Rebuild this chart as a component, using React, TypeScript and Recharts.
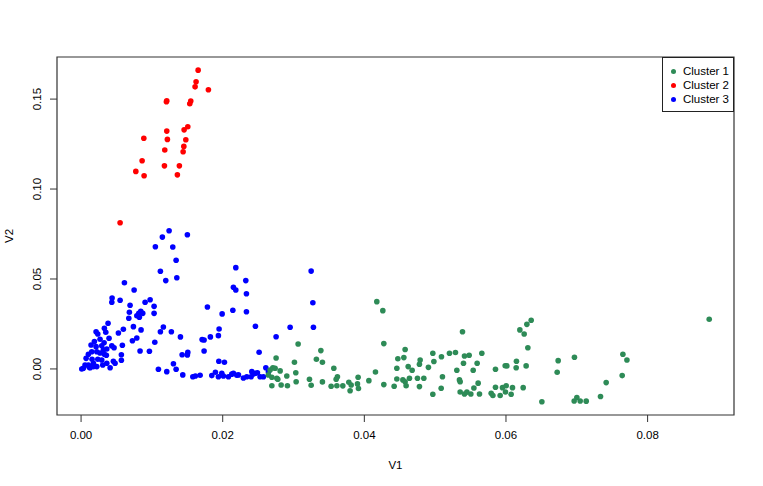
import { ScatterChart, Scatter, XAxis, YAxis, ReferenceArea, Legend } from "recharts";

// values (V1, V2)
const cluster1 = [
  { v1: 0.04176, v2: 0.0374 }, { v1: 0.04261, v2: 0.0324 }, { v1: 0.03065, v2: 0.0139 }, { v1: 0.04275, v2: 0.0141 },
  { v1: 0.02754, v2: 0.0061 }, { v1: 0.03386, v2: 0.0102 }, { v1: 0.03013, v2: 0.0037 }, { v1: 0.03323, v2: 0.0054 },
  { v1: 0.03408, v2: 0.0037 }, { v1: 0.04576, v2: 0.0108 }, { v1: 0.04473, v2: 0.0057 }, { v1: 0.04558, v2: 0.0063 },
  { v1: 0.04459, v2: 0.0004 }, { v1: 0.04619, v2: 0.0013 }, { v1: 0.03569, v2: 0.0004 }, { v1: 0.04157, v2: -0.0017 },
  { v1: 0.03032, v2: -0.0021 }, { v1: 0.02708, v2: 0.0007 }, { v1: 0.0274, v2: 0.0004 }, { v1: 0.02811, v2: -0.0011 },
  { v1: 0.02764, v2: -0.0052 }, { v1: 0.02694, v2: -0.0046 }, { v1: 0.02645, v2: -0.0033 }, { v1: 0.02905, v2: -0.0039 },
  { v1: 0.0362, v2: -0.0043 }, { v1: 0.03602, v2: -0.0057 }, { v1: 0.03912, v2: -0.0046 }, { v1: 0.04064, v2: -0.0065 },
  { v1: 0.03225, v2: -0.0057 }, { v1: 0.03408, v2: -0.0072 }, { v1: 0.03037, v2: -0.0071 }, { v1: 0.02694, v2: -0.0093 },
  { v1: 0.02825, v2: -0.0089 }, { v1: 0.02914, v2: -0.0093 }, { v1: 0.03249, v2: -0.0091 }, { v1: 0.03531, v2: -0.0096 },
  { v1: 0.03612, v2: -0.0093 }, { v1: 0.03696, v2: -0.0094 }, { v1: 0.03781, v2: -0.0074 }, { v1: 0.03814, v2: -0.0089 },
  { v1: 0.03799, v2: -0.0121 }, { v1: 0.03903, v2: -0.0083 }, { v1: 0.03917, v2: -0.0109 }, { v1: 0.04275, v2: -0.0087 },
  { v1: 0.04421, v2: -0.0096 }, { v1: 0.04459, v2: -0.0056 }, { v1: 0.04544, v2: -0.0061 }, { v1: 0.04576, v2: -0.0071 },
  { v1: 0.0459, v2: -0.0093 }, { v1: 0.04637, v2: -0.0052 }, { v1: 0.02669, v2: -0.0006 }, { v1: 0.02778, v2: -0.0057 },
  { v1: 0.05386, v2: 0.0207 }, { v1: 0.06196, v2: 0.0217 }, { v1: 0.06295, v2: 0.0248 }, { v1: 0.06356, v2: 0.0271 },
  { v1: 0.06257, v2: 0.0194 }, { v1: 0.06309, v2: 0.0118 }, { v1: 0.06737, v2: 0.0046 }, { v1: 0.06723, v2: -0.0018 },
  { v1: 0.04967, v2: 0.0087 }, { v1: 0.05202, v2: 0.0087 }, { v1: 0.05287, v2: 0.0091 }, { v1: 0.05414, v2: 0.0072 },
  { v1: 0.0548, v2: 0.0076 }, { v1: 0.05659, v2: 0.0087 }, { v1: 0.05089, v2: 0.0068 }, { v1: 0.04788, v2: 0.005 },
  { v1: 0.04778, v2: 0.0026 }, { v1: 0.04982, v2: 0.0041 }, { v1: 0.054, v2: 0.0032 }, { v1: 0.05593, v2: 0.0032 },
  { v1: 0.06148, v2: 0.0043 }, { v1: 0.06144, v2: 0.0007 }, { v1: 0.05989, v2: 0.0018 }, { v1: 0.06013, v2: 0.0017 },
  { v1: 0.06285, v2: 0.0017 }, { v1: 0.04675, v2: -0.0007 }, { v1: 0.04905, v2: 0.0009 }, { v1: 0.05306, v2: -0.0007 },
  { v1: 0.05537, v2: -0.0007 }, { v1: 0.05852, v2: -0.0002 }, { v1: 0.0475, v2: -0.0052 }, { v1: 0.0484, v2: -0.0052 },
  { v1: 0.05103, v2: -0.0043 }, { v1: 0.05343, v2: -0.0061 }, { v1: 0.04778, v2: -0.0098 }, { v1: 0.05085, v2: -0.0107 },
  { v1: 0.05607, v2: -0.0079 }, { v1: 0.05547, v2: -0.0106 }, { v1: 0.05852, v2: -0.0102 }, { v1: 0.05951, v2: -0.0104 },
  { v1: 0.06003, v2: -0.0093 }, { v1: 0.06092, v2: -0.0104 }, { v1: 0.06243, v2: -0.0104 }, { v1: 0.04967, v2: -0.0141 },
  { v1: 0.05353, v2: -0.0128 }, { v1: 0.05414, v2: -0.0139 }, { v1: 0.05448, v2: -0.0129 }, { v1: 0.05504, v2: -0.0139 },
  { v1: 0.05626, v2: -0.0139 }, { v1: 0.05791, v2: -0.0135 }, { v1: 0.05815, v2: -0.0148 }, { v1: 0.05918, v2: -0.0148 },
  { v1: 0.05993, v2: -0.0128 }, { v1: 0.06073, v2: -0.0141 }, { v1: 0.06507, v2: -0.0182 }, { v1: 0.06963, v2: -0.0178 },
  { v1: 0.07001, v2: -0.0159 }, { v1: 0.07048, v2: -0.0178 }, { v1: 0.07133, v2: -0.0179 }, { v1: 0.07335, v2: -0.0153 },
  { v1: 0.07415, v2: -0.0076 }, { v1: 0.07651, v2: 0.0082 }, { v1: 0.07708, v2: 0.005 }, { v1: 0.07641, v2: -0.0037 },
  { v1: 0.0887, v2: 0.0276 }, { v1: 0.06967, v2: 0.0065 }, { v1: 0.05353, v2: -0.0071 },
];

const cluster2 = [
  { v1: 0.01653, v2: 0.1661 }, { v1: 0.01624, v2: 0.1596 }, { v1: 0.0161, v2: 0.1568 }, { v1: 0.01798, v2: 0.1552 },
  { v1: 0.0121, v2: 0.1491 }, { v1: 0.01205, v2: 0.1485 }, { v1: 0.01549, v2: 0.1489 }, { v1: 0.01535, v2: 0.1474 },
  { v1: 0.01507, v2: 0.1346 }, { v1: 0.01455, v2: 0.1329 }, { v1: 0.0121, v2: 0.1322 }, { v1: 0.00886, v2: 0.1282 },
  { v1: 0.01219, v2: 0.1276 }, { v1: 0.01479, v2: 0.1274 }, { v1: 0.01182, v2: 0.1217 }, { v1: 0.01451, v2: 0.1237 },
  { v1: 0.01441, v2: 0.1207 }, { v1: 0.00862, v2: 0.1157 }, { v1: 0.01177, v2: 0.1129 }, { v1: 0.01388, v2: 0.1129 },
  { v1: 0.00773, v2: 0.1098 }, { v1: 0.0089, v2: 0.1074 }, { v1: 0.0136, v2: 0.1079 }, { v1: 0.00551, v2: 0.0813 },
];

const cluster3 = [
  { v1: 0.01243, v2: 0.0768 }, { v1: 0.01148, v2: 0.0733 }, { v1: 0.01501, v2: 0.0746 }, { v1: 0.01049, v2: 0.0679 },
  { v1: 0.01295, v2: 0.0678 }, { v1: 0.01342, v2: 0.0604 }, { v1: 0.0112, v2: 0.0543 }, { v1: 0.01196, v2: 0.0491 },
  { v1: 0.01352, v2: 0.0507 }, { v1: 0.00612, v2: 0.0479 }, { v1: 0.00749, v2: 0.0439 }, { v1: 0.00438, v2: 0.0394 },
  { v1: 0.00434, v2: 0.0371 }, { v1: 0.00551, v2: 0.0382 }, { v1: 0.00692, v2: 0.0354 }, { v1: 0.00975, v2: 0.0385 },
  { v1: 0.00904, v2: 0.0371 }, { v1: 0.01031, v2: 0.0348 }, { v1: 0.00682, v2: 0.0315 }, { v1: 0.00843, v2: 0.0321 },
  { v1: 0.00815, v2: 0.0309 }, { v1: 0.00871, v2: 0.0309 }, { v1: 0.00787, v2: 0.0296 }, { v1: 0.00823, v2: 0.0287 },
  { v1: 0.00674, v2: 0.0282 }, { v1: 0.01031, v2: 0.0309 }, { v1: 0.00381, v2: 0.0254 }, { v1: 0.00739, v2: 0.0235 },
  { v1: 0.00597, v2: 0.0221 }, { v1: 0.00847, v2: 0.0217 }, { v1: 0.01162, v2: 0.0233 }, { v1: 0.0112, v2: 0.0207 },
  { v1: 0.01275, v2: 0.0207 }, { v1: 0.01403, v2: 0.0178 }, { v1: 0.00527, v2: 0.02 }, { v1: 0.00787, v2: 0.0172 },
  { v1: 0.00725, v2: 0.0157 }, { v1: 0.01041, v2: 0.0148 }, { v1: 0.00583, v2: 0.0132 }, { v1: 0.00833, v2: 0.01 },
  { v1: 0.00965, v2: 0.0098 }, { v1: 0.01427, v2: 0.0079 }, { v1: 0.01507, v2: 0.0092 }, { v1: 0.01501, v2: 0.0078 },
  { v1: 0.00569, v2: 0.0079 }, { v1: 0.00569, v2: 0.0048 }, { v1: 0.01092, v2: -0.0002 }, { v1: 0.0121, v2: -0.0015 },
  { v1: 0.01304, v2: 0.0029 }, { v1: 0.01342, v2: -0.0002 }, { v1: 0.01436, v2: -0.0033 }, { v1: 0.01578, v2: -0.0043 },
  { v1: 0.01614, v2: -0.0039 }, { v1: 0.01681, v2: -0.0035 }, { v1: 0.02185, v2: 0.0563 }, { v1: 0.02326, v2: 0.0491 },
  { v1: 0.02151, v2: 0.0454 }, { v1: 0.02185, v2: 0.0439 }, { v1: 0.02335, v2: 0.0418 }, { v1: 0.01784, v2: 0.0344 },
  { v1: 0.01992, v2: 0.0306 }, { v1: 0.02143, v2: 0.0326 }, { v1: 0.02335, v2: 0.0318 }, { v1: 0.02462, v2: 0.0237 },
  { v1: 0.01949, v2: 0.0222 }, { v1: 0.01939, v2: 0.0185 }, { v1: 0.01826, v2: 0.0178 }, { v1: 0.01709, v2: 0.0163 },
  { v1: 0.01737, v2: 0.0161 }, { v1: 0.01737, v2: 0.01 }, { v1: 0.03249, v2: 0.0544 }, { v1: 0.03273, v2: 0.0368 },
  { v1: 0.03281, v2: 0.0232 }, { v1: 0.02952, v2: 0.0232 }, { v1: 0.02754, v2: 0.0179 }, { v1: 0.02514, v2: 0.0093 },
  { v1: 0.01945, v2: 0.0043 }, { v1: 0.02024, v2: 0.0037 }, { v1: 0.02609, v2: 0.0007 }, { v1: 0.01846, v2: -0.0037 },
  { v1: 0.01897, v2: -0.0018 }, { v1: 0.01939, v2: -0.0043 }, { v1: 0.01987, v2: -0.0024 }, { v1: 0.0201, v2: -0.0039 },
  { v1: 0.02081, v2: -0.0043 }, { v1: 0.02151, v2: -0.0024 }, { v1: 0.02199, v2: -0.0035 }, { v1: 0.02292, v2: -0.005 },
  { v1: 0.0234, v2: -0.0043 }, { v1: 0.02411, v2: -0.0015 }, { v1: 0.02434, v2: -0.0028 }, { v1: 0.0249, v2: -0.0021 },
  { v1: 0.02528, v2: -0.0043 }, { v1: 0.02575, v2: -0.0043 }, { v1: 0.02458, v2: -0.0024 }, { v1: 0.02645, v2: -0.0015 },
  { v1: 0.02401, v2: -0.0043 }, { v1: 0.02222, v2: -0.0033 }, { v1: 0.02128, v2: -0.0029 },
  { v1: 0.00212, v2: 0.0207 }, { v1: 0.00236, v2: 0.0194 }, { v1: 0.00329, v2: 0.0226 }, { v1: 0.00349, v2: 0.0204 },
  { v1: 0.00395, v2: 0.0171 }, { v1: 0.00268, v2: 0.0165 }, { v1: 0.00188, v2: 0.0152 }, { v1: 0.00141, v2: 0.0133 },
  { v1: 0.00212, v2: 0.0124 }, { v1: 0.00292, v2: 0.0129 }, { v1: 0.00325, v2: 0.0146 }, { v1: 0.00434, v2: 0.0128 },
  { v1: 0.00466, v2: 0.0118 }, { v1: 0.00151, v2: 0.0096 }, { v1: 0.00103, v2: 0.0082 }, { v1: 0.00222, v2: 0.0096 },
  { v1: 0.00268, v2: 0.0089 }, { v1: 0.00329, v2: 0.0082 }, { v1: 0.00363, v2: 0.0111 }, { v1: 0.00315, v2: 0.0106 },
  { v1: 0.00071, v2: 0.0059 }, { v1: 0.00155, v2: 0.0054 }, { v1: 0.00236, v2: 0.0054 }, { v1: 0.00292, v2: 0.005 },
  { v1: 0.00357, v2: 0.0076 }, { v1: 0.00456, v2: 0.0043 }, { v1: 0.0048, v2: 0.0032 }, { v1: 0.0041, v2: 0.0007 },
  { v1: 0.00306, v2: 0.0022 }, { v1: 0.00174, v2: 0.0032 }, { v1: 0.00103, v2: 0.0021 }, { v1: 0.00032, v2: 0.0004 },
  { v1: 0.0001, v2: 0.0 }, { v1: 0.00127, v2: 0.0007 }, { v1: 0.00222, v2: 0.0013 }, { v1: 0.00056, v2: 0.0022 },
  { v1: 0.00363, v2: 0.0032 }, { v1: 0.00174, v2: 0.0013 }, { v1: 0.00117, v2: 0.0009 },
];

const xTicks = [0, 0.02, 0.04, 0.06, 0.08];
const yTicks = [0, 0.05, 0.1, 0.15];
const xDomain = [-0.0034, 0.0922];
const yDomain = [-0.0256, 0.1734];

const COLORS = {
  c1: "#2E8B57",
  c2: "#FF0000",
  c3: "#0000FF",
};

const legendItems = [
  { name: "Cluster 1", color: COLORS.c1 },
  { name: "Cluster 2", color: COLORS.c2 },
  { name: "Cluster 3", color: COLORS.c3 },
];

const FONT = '"Liberation Sans", Arial, Helvetica, sans-serif';

const dot = (color: string) => (props: any) => (
  <circle cx={props.cx} cy={props.cy} r={2.8} fill={color} />
);

const YTick = ({ y, payload }: any) => (
  <text
    transform={`translate(40.5,${y}) rotate(-90)`}
    textAnchor="middle"
    fontSize={11.5}
    fill="#000"
    fontFamily={FONT}
  >
    {payload.value.toFixed(2)}
  </text>
);

const LegendBox = () => (
  <div
    style={{
      width: 72,
      height: 55,
      boxSizing: "border-box",
      border: "1px solid #222",
      background: "#fff",
      fontFamily: FONT,
      fontSize: 11.5,
      paddingTop: 6,
    }}
  >
    {legendItems.map((item) => (
      <div key={item.name} style={{ display: "flex", alignItems: "center", height: 14 }}>
        <span
          style={{
            display: "inline-block",
            width: 5,
            height: 5,
            borderRadius: "50%",
            background: item.color,
            marginLeft: 7.5,
            marginRight: 7.5,
          }}
        />
        <span style={{ color: "#000" }}>{item.name}</span>
      </div>
    ))}
  </div>
);

export default function App() {
  return (
    <div style={{ position: "absolute", left: 0, top: 0, background: "#fff" }}>
      <ScatterChart width={763} height={486} margin={{ top: 57, right: 29, bottom: 0, left: 0 }}>
        <XAxis
          type="number"
          dataKey="v1"
          domain={xDomain}
          ticks={xTicks}
          allowDataOverflow
          axisLine={false}
          tickLine={{ stroke: "#333" }}
          tickSize={7}
          tickMargin={9}
          height={71}
          tick={{ fontSize: 11.5, fill: "#000", fontFamily: FONT }}
          tickFormatter={(v: number) => v.toFixed(2)}
          label={{ value: "V1", position: "insideBottom", offset: 17.5, fontSize: 11.5, fill: "#000", fontFamily: FONT }}
        />
        <YAxis
          type="number"
          dataKey="v2"
          domain={yDomain}
          ticks={yTicks}
          allowDataOverflow
          axisLine={false}
          tickLine={{ stroke: "#333" }}
          tickSize={7}
          width={57}
          tick={<YTick />}
          label={{
            content: () => (
              <text
                transform="translate(13,236) rotate(-90)"
                textAnchor="middle"
                fontSize={11.5}
                fill="#000"
                fontFamily={FONT}
              >
                V2
              </text>
            ),
          }}
        />
        <ReferenceArea
          x1={xDomain[0]}
          x2={xDomain[1]}
          y1={yDomain[0]}
          y2={yDomain[1]}
          fill="none"
          fillOpacity={0}
          stroke="#333"
          strokeWidth={1.2}
        />
        <Scatter name="Cluster 3" data={cluster3} fill={COLORS.c3} shape={dot(COLORS.c3)} isAnimationActive={false} />
        <Scatter name="Cluster 1" data={cluster1} fill={COLORS.c1} shape={dot(COLORS.c1)} isAnimationActive={false} />
        <Scatter name="Cluster 2" data={cluster2} fill={COLORS.c2} shape={dot(COLORS.c2)} isAnimationActive={false} />
        <Legend
          layout="horizontal"
          verticalAlign="middle"
          align="center"
          content={<LegendBox />}
          wrapperStyle={{ position: "absolute", left: 662, top: 57, width: 72, height: 55 }}
        />
      </ScatterChart>
    </div>
  );
}
